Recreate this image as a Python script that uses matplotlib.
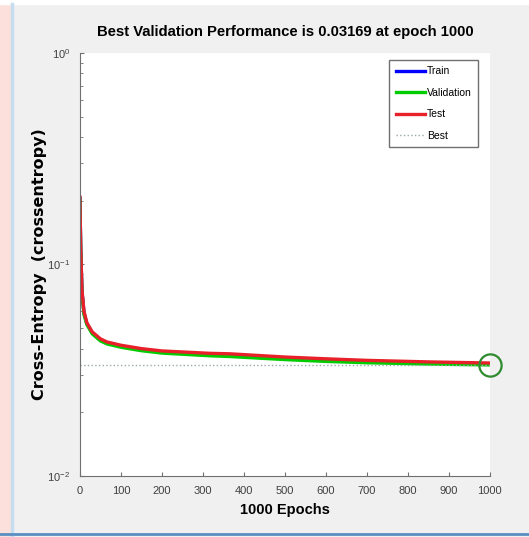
import matplotlib.pyplot as plt
from matplotlib.lines import Line2D
from matplotlib.patches import Rectangle

# Valeurs
epochs = [0, 2, 5, 10, 17, 30, 50, 66, 100, 150, 200, 317, 366, 500, 600, 700, 854, 1000]
train = [0.206, 0.119, 0.075, 0.059, 0.0525, 0.0475, 0.0440, 0.0426, 0.0411, 0.0396, 0.0386, 0.0376, 0.0373, 0.0361, 0.0354, 0.0348, 0.0342, 0.0338]
validation = [0.204, 0.118, 0.074, 0.058, 0.0520, 0.0470, 0.0435, 0.0421, 0.0406, 0.0391, 0.0381, 0.0370, 0.0367, 0.0355, 0.0348, 0.0343, 0.0338, 0.0335]
test = [0.208, 0.120, 0.076, 0.060, 0.0530, 0.0480, 0.0445, 0.0430, 0.0415, 0.0400, 0.0390, 0.0380, 0.0378, 0.0365, 0.0358, 0.0352, 0.0346, 0.0342]
best_epoch = 1000
best_perf = 0.0335
xticks = [0, 100, 200, 300, 400, 500, 600, 700, 800, 900, 1000]

arial = ["Liberation Sans", "DejaVu Sans"]
plt.rcParams["mathtext.fontset"] = "custom"
plt.rcParams["mathtext.rm"] = "Liberation Sans"
plt.rcParams["mathtext.default"] = "regular"

fig = plt.figure(figsize=(5.29, 5.37), dpi=100, facecolor="#f0f0f0")

# bandeau rose et bordures bleues, comme la capture d'écran
fig.patches.append(Rectangle((0, 0), 0.021, 1, transform=fig.transFigure,
                             color="#fbe0dc", zorder=0))
fig.patches.append(Rectangle((0, 0.993), 1, 0.007, transform=fig.transFigure,
                             color="white", zorder=0))
fig.add_artist(Line2D([0.0235, 0.0235], [0, 0.993], transform=fig.transFigure,
                      color="#c6dcef", lw=2.5))
fig.add_artist(Line2D([0, 1], [0.006, 0.006], transform=fig.transFigure,
                      color="#5b8fc2", lw=2))

ax = fig.add_axes([0.151, 0.1136, 0.775, 0.788])
ax.set_facecolor("white")

ax.plot(epochs, train, color="#0000ff", lw=2.4, label="Train")
ax.plot(epochs, validation, color="#00cc00", lw=2.4, label="Validation")
ax.plot(epochs, test, color="#e8202a", lw=2.4, label="Test")
ax.axhline(best_perf, color="#9aa8a8", lw=1, ls=":", label="Best")
ax.plot([best_epoch], [best_perf], "o", ms=16, mfc="none", mec="#2e8b2e", mew=1.6,
        clip_on=False)

ax.set_yscale("log")
ax.set_xlim(0, 1000)
ax.set_ylim(0.01, 1)
ax.set_xticks(xticks)
ax.tick_params(direction="in", labelsize=8, labelcolor="#404040", color="#707070",
               length=3, pad=7)
ax.tick_params(which="minor", direction="in", length=2, color="#707070")
for lab in ax.get_xticklabels() + ax.get_yticklabels():
    lab.set_family(arial)

for side in ["top", "right"]:
    ax.spines[side].set_visible(False)
for side in ["left", "bottom"]:
    ax.spines[side].set_color("#707070")

ax.set_title("Best Validation Performance is 0.03169 at epoch 1000",
             fontsize=10.7, fontweight="bold", family=arial, pad=12)
ax.set_xlabel("1000 Epochs", fontsize=10.5, fontweight="bold",
              family=arial, labelpad=5)
ax.set_ylabel("Cross-Entropy  (crossentropy)", fontsize=11.5, fontweight="bold")
ax.yaxis.set_label_coords(-0.08, 0.5)

leg = ax.legend(loc="upper right", bbox_to_anchor=(0.971, 0.983),
                prop={"family": arial, "size": 7.5}, handlelength=2.8,
                handletextpad=0.2, fancybox=False, framealpha=1, borderpad=0.6,
                labelspacing=1.1, borderaxespad=0)
leg.get_frame().set_edgecolor("#707070")

plt.savefig("out.png", dpi=100, facecolor=fig.get_facecolor())
